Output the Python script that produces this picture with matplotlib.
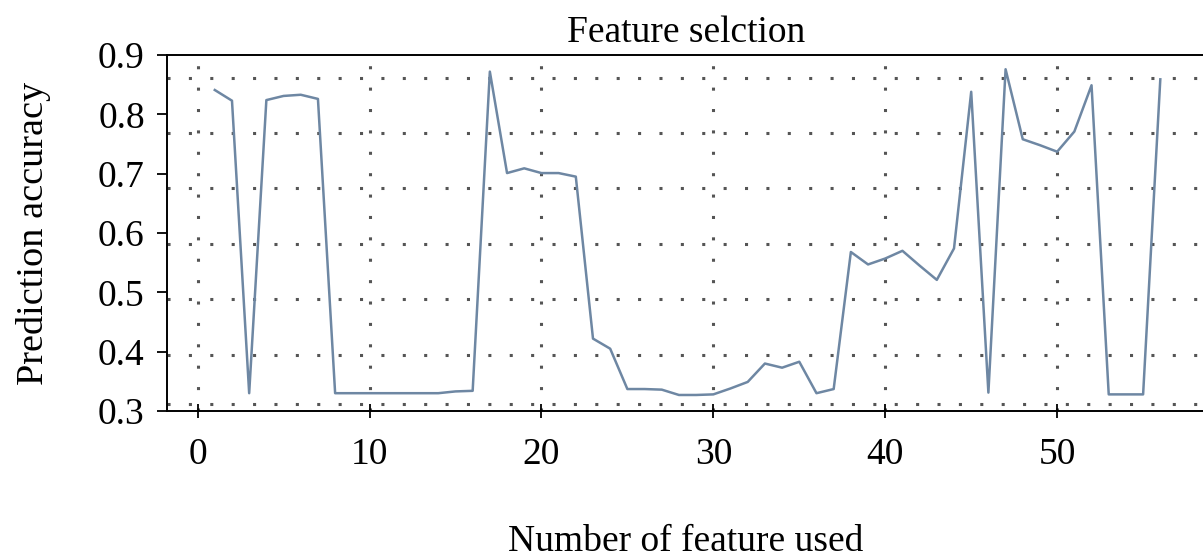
import matplotlib
matplotlib.use('Agg')
import matplotlib.pyplot as plt

# number of features used (1..56) and prediction accuracy
n_features = list(range(1, 57))
accuracy = [
    0.841, 0.823, 0.330, 0.824, 0.831, 0.833, 0.826, 0.330, 0.330, 0.330,
    0.330, 0.330, 0.330, 0.330, 0.333, 0.334, 0.872, 0.701, 0.709, 0.701,
    0.701, 0.695, 0.422, 0.405, 0.337, 0.337, 0.336, 0.327, 0.327, 0.328,
    0.338, 0.349, 0.380, 0.373, 0.383, 0.330, 0.337, 0.568, 0.547, 0.557,
    0.570, 0.545, 0.521, 0.574, 0.838, 0.331, 0.876, 0.758, 0.748, 0.737,
    0.771, 0.849, 0.328, 0.328, 0.328, 0.859,
]

x_ticks = [0, 10, 20, 30, 40, 50]
y_ticks = [0.3, 0.4, 0.5, 0.6, 0.7, 0.8, 0.9]
# the horizontal dotted grid in the source sits slightly off the tick marks
y_grid = [0.312, 0.394, 0.489, 0.581, 0.676, 0.769, 0.861]

plt.rcParams['font.family'] = ['Liberation Serif', 'DejaVu Serif']

fig = plt.figure(figsize=(12.03, 5.6), dpi=100)
ax = fig.add_axes([167 / 1203, 1 - 411 / 560, 1038 / 1203, 356 / 560])

ax.plot(n_features, accuracy, color='#6e87a3', linewidth=1.8)

ax.set_xlim(-1.78, 58.6)
ax.set_ylim(0.3, 0.9)
ax.set_xticks(x_ticks)
ax.set_yticks(y_ticks)
ax.set_yticks(y_grid, minor=True)
ax.set_yticklabels([f'{v:.1f}' for v in y_ticks])

grid_style = dict(color='#555555', linestyle=(0, (1, 6)), linewidth=2.2)
ax.xaxis.grid(True, which='major', **grid_style)
ax.yaxis.grid(True, which='minor', **grid_style)
ax.yaxis.grid(False, which='major')

ax.tick_params(axis='y', which='major', direction='out', length=7, width=1.3,
               pad=9, labelsize=27)
ax.tick_params(axis='y', which='minor', length=0)
ax.tick_params(axis='x', direction='inout', length=10, width=1.3,
               pad=14, labelsize=27)
ax.tick_params(top=False, right=False)

for side in ['left', 'bottom', 'top']:
    ax.spines[side].set_linewidth(1.4)
ax.spines['right'].set_visible(False)

ax.set_title('Feature selction', fontsize=27, pad=9)
ax.set_xlabel('Number of feature used', fontsize=27, labelpad=38)
ax.set_ylabel('Prediction accuracy', fontsize=27.5, labelpad=34)

fig.savefig('out.png', dpi=100)
